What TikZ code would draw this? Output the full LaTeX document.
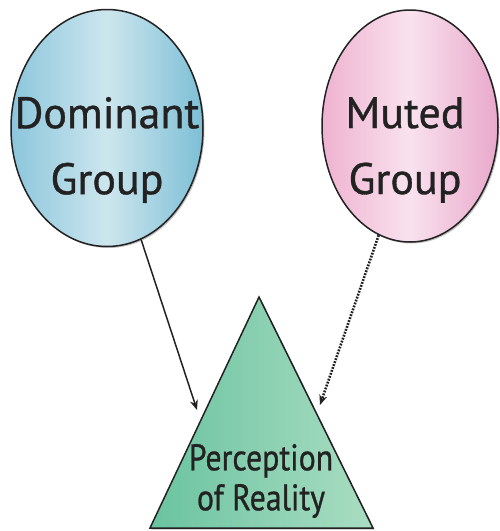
\documentclass[tikz,border=0pt]{standalone}
\usepackage{fontspec}
\setmainfont{PT Sans}
\newfontfamily\narrowfont[FakeStretch=0.86,FakeBold=0.8]{PT Sans}
\newfontfamily\labelfont[FakeBold=0.8]{PT Sans}
\usepackage{xcolor}
\usetikzlibrary{arrows.meta,calc,positioning,shapes.geometric,shadows}

\definecolor{domleft}{HTML}{8CC6DC}
\definecolor{dommid}{HTML}{CDE6EE}
\definecolor{domright}{HTML}{7DBFD6}
\definecolor{mutleft}{HTML}{EFB2D0}
\definecolor{mutmid}{HTML}{F9E2EE}
\definecolor{mutright}{HTML}{E9A8CB}
\definecolor{perleft}{HTML}{6AC3A0}
\definecolor{perright}{HTML}{AADDC2}
\definecolor{inkgray}{HTML}{222222}

\tikzset{
  groupshape/.style={ellipse, draw=inkgray, line width=1.5pt, inner sep=0pt,
    drop shadow={opacity=0.5, shadow xshift=1.5pt, shadow yshift=-1.5pt}},
  grouptext/.style={text=inkgray, align=center, font=\labelfont\fontsize{44}{66}\selectfont},
  pertext/.style={text=inkgray, align=center, font=\narrowfont\fontsize{37}{40}\selectfont},
  influence/.style={-{Stealth[length=10pt,width=8pt]}, inkgray, line width=1.5pt},
  muffled/.style={-{Stealth[length=10pt,width=8pt]}, inkgray, line width=2.6pt,
    dash pattern=on 1.8pt off 1.3pt}
}

\begin{document}
\begin{tikzpicture}[x=1pt,y=-1pt]
		\useasboundingbox (0,0) rectangle (499,531);
		% the two groups
		\node[groupshape, minimum width=192pt, minimum height=237pt,
		  left color=domleft, right color=domright, middle color=dommid] (dom) at (107,128) {};
		\node[grouptext] (domtext) at (107,150) {Dominant\\Group};
		\node[groupshape, minimum width=176pt, minimum height=232pt,
		  left color=mutleft, right color=mutright, middle color=mutmid] (mut) at (410,126) {};
		\node[grouptext] (muttext) at (405,150) {Muted\\Group};
		% the triangle
		\coordinate (apex) at (259,297);
		\coordinate (baseleft) at (150,528);
		\coordinate (baseright) at (373,528);
		\draw[inkgray, line width=1.5pt, left color=perleft, right color=perright,
		  drop shadow={opacity=0.5, shadow xshift=1.5pt, shadow yshift=-1.5pt}]
		  (apex) -- (baseleft) -- (baseright) -- cycle;
		\node[pertext] (pertext) at (261,481) {Perception\\of Reality};
		% arrows
		\coordinate (domtip) at (197,410);
		\coordinate (muttip) at (320,405);
		\draw[influence] (dom.-73) -- (domtip);
		\draw[muffled] (mut.-106) -- (muttip);
\end{tikzpicture}
\end{document}
